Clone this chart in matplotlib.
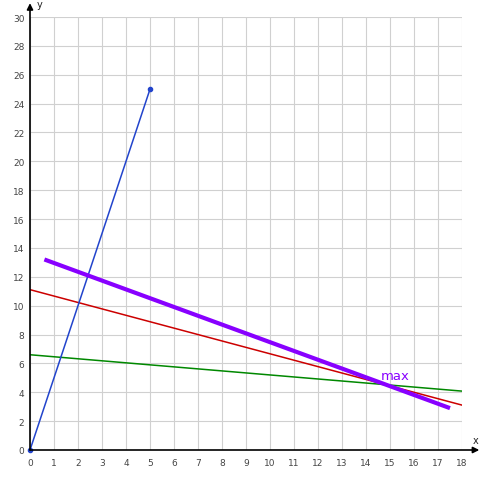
import matplotlib
matplotlib.use("Agg")
import matplotlib.pyplot as plt

# Data
blue_x = [0, 5]
blue_y = [0, 25]
red_x = [0, 18]
red_y = [11.11, 3.11]
green_x = [0, 18]
green_y = [6.6, 4.08]
purple_x = [0.6, 17.5]
purple_y = [13.2, 2.9]
max_label = "max"
max_pos = (14.6, 4.7)
x_ticks = list(range(0, 19))
y_ticks = list(range(0, 31, 2))

W, H = 486, 481
fig = plt.figure(figsize=(W / 100, H / 100), dpi=100)
ax = fig.add_axes([30 / W, (H - 451) / H, 432 / W, 433 / H])
ax.set_xlim(0, 18)
ax.set_ylim(0, 30)
ax.set_xticks(x_ticks)
ax.set_yticks(y_ticks)
ax.grid(True, color="#d0d0d0", linewidth=0.8)
ax.set_axisbelow(True)
for s in ax.spines.values():
    s.set_visible(False)
ax.tick_params(axis="x", length=0, labelsize=6.5, labelcolor="#444444", pad=6)
ax.tick_params(axis="y", length=0, labelsize=6.5, labelcolor="#444444", pad=4)

ax.plot(green_x, green_y, color="#008800", linewidth=1.1, zorder=3)
ax.plot(red_x, red_y, color="#cc0000", linewidth=1.1, zorder=3)
ax.plot(blue_x, blue_y, color="#2244cc", linewidth=1.1, marker="o", markersize=3, zorder=3, clip_on=False)
ax.plot(purple_x, purple_y, color="#8800ff", linewidth=3, solid_capstyle="butt", zorder=4)
ax.text(max_pos[0], max_pos[1], max_label, color="#8800ff", fontsize=9.5, ha="left", va="bottom")

# Axis arrows
ax.annotate("", xy=(1.04, 0), xytext=(0, 0), xycoords="axes fraction",
            arrowprops=dict(arrowstyle="-|>", color="black", lw=1.2, mutation_scale=9,
                            shrinkA=0, shrinkB=0), annotation_clip=False)
ax.annotate("", xy=(0, 1.032), xytext=(0, 0), xycoords="axes fraction",
            arrowprops=dict(arrowstyle="-|>", color="black", lw=1.2, mutation_scale=9,
                            shrinkA=0, shrinkB=0), annotation_clip=False)
fig.text(476 / W, 1 - 441 / H, "x", fontsize=7, ha="center", va="center", color="#222222")
fig.text(40 / W, 1 - 5 / H, "y", fontsize=7, ha="center", va="center", color="#222222")

fig.savefig("out.png", dpi=100)
